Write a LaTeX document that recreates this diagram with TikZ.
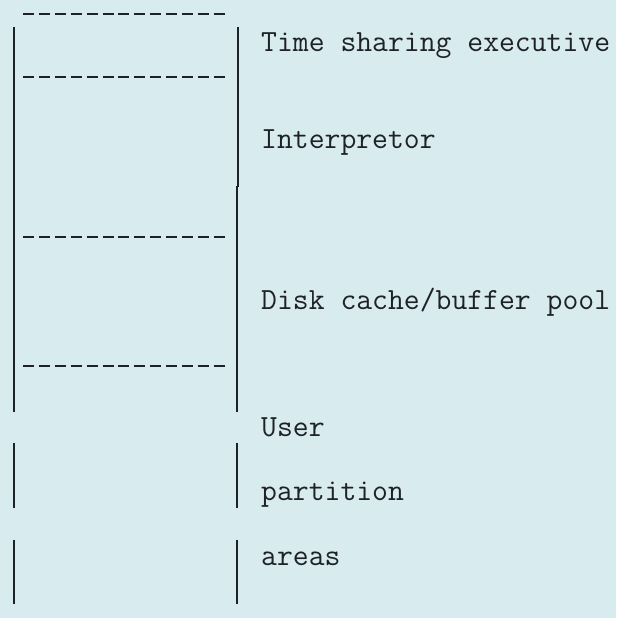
\documentclass[tikz,border=0pt]{standalone}
\usepackage{fontspec}
\usetikzlibrary{positioning}
\definecolor{paper}{HTML}{D8EBEF}
\definecolor{ink}{HTML}{1E2226}
\tikzset{side/.style={ink, line width=1.7pt},
  cut/.style={ink, line width=1.9pt, dash pattern=on 11pt off 4.9pt},
  lbl/.style={font=\fontsize{30.8}{36}\selectfont\ttfamily, text=ink, anchor=base west, inner sep=0pt}}

\begin{document}
\begin{tikzpicture}[x=1pt,y=-1pt]
% ---- paper ----
\fill[paper] (0,0) rectangle (616,618);
\useasboundingbox (0,0) rectangle (616,618);
% ---- memory map ----
\draw[side] (14,27) -- (14,412) (14,443) -- (14,508) (14,540) -- (14,604);
\draw[side] (238,27) -- (238,187) (237,186) -- (237,412) (237,443) -- (237,508) (237,540) -- (237,604);
\foreach \y in {14,77,237,366}
  \draw[cut] (23,\y) -- (229,\y);
% ---- labels ----
\node[lbl] (tse) at (261,52) {Time sharing executive};
\node[lbl] (intp) at (261,148) {Interpretor};
\node[lbl] (disk) at (261,309) {Disk cache/buffer pool};
\node[lbl] (user) at (261,436) {User};
\node[lbl] (part) at (261,500) {partition};
\node[lbl] (area) at (261,565) {areas};
\end{tikzpicture}
\end{document}
